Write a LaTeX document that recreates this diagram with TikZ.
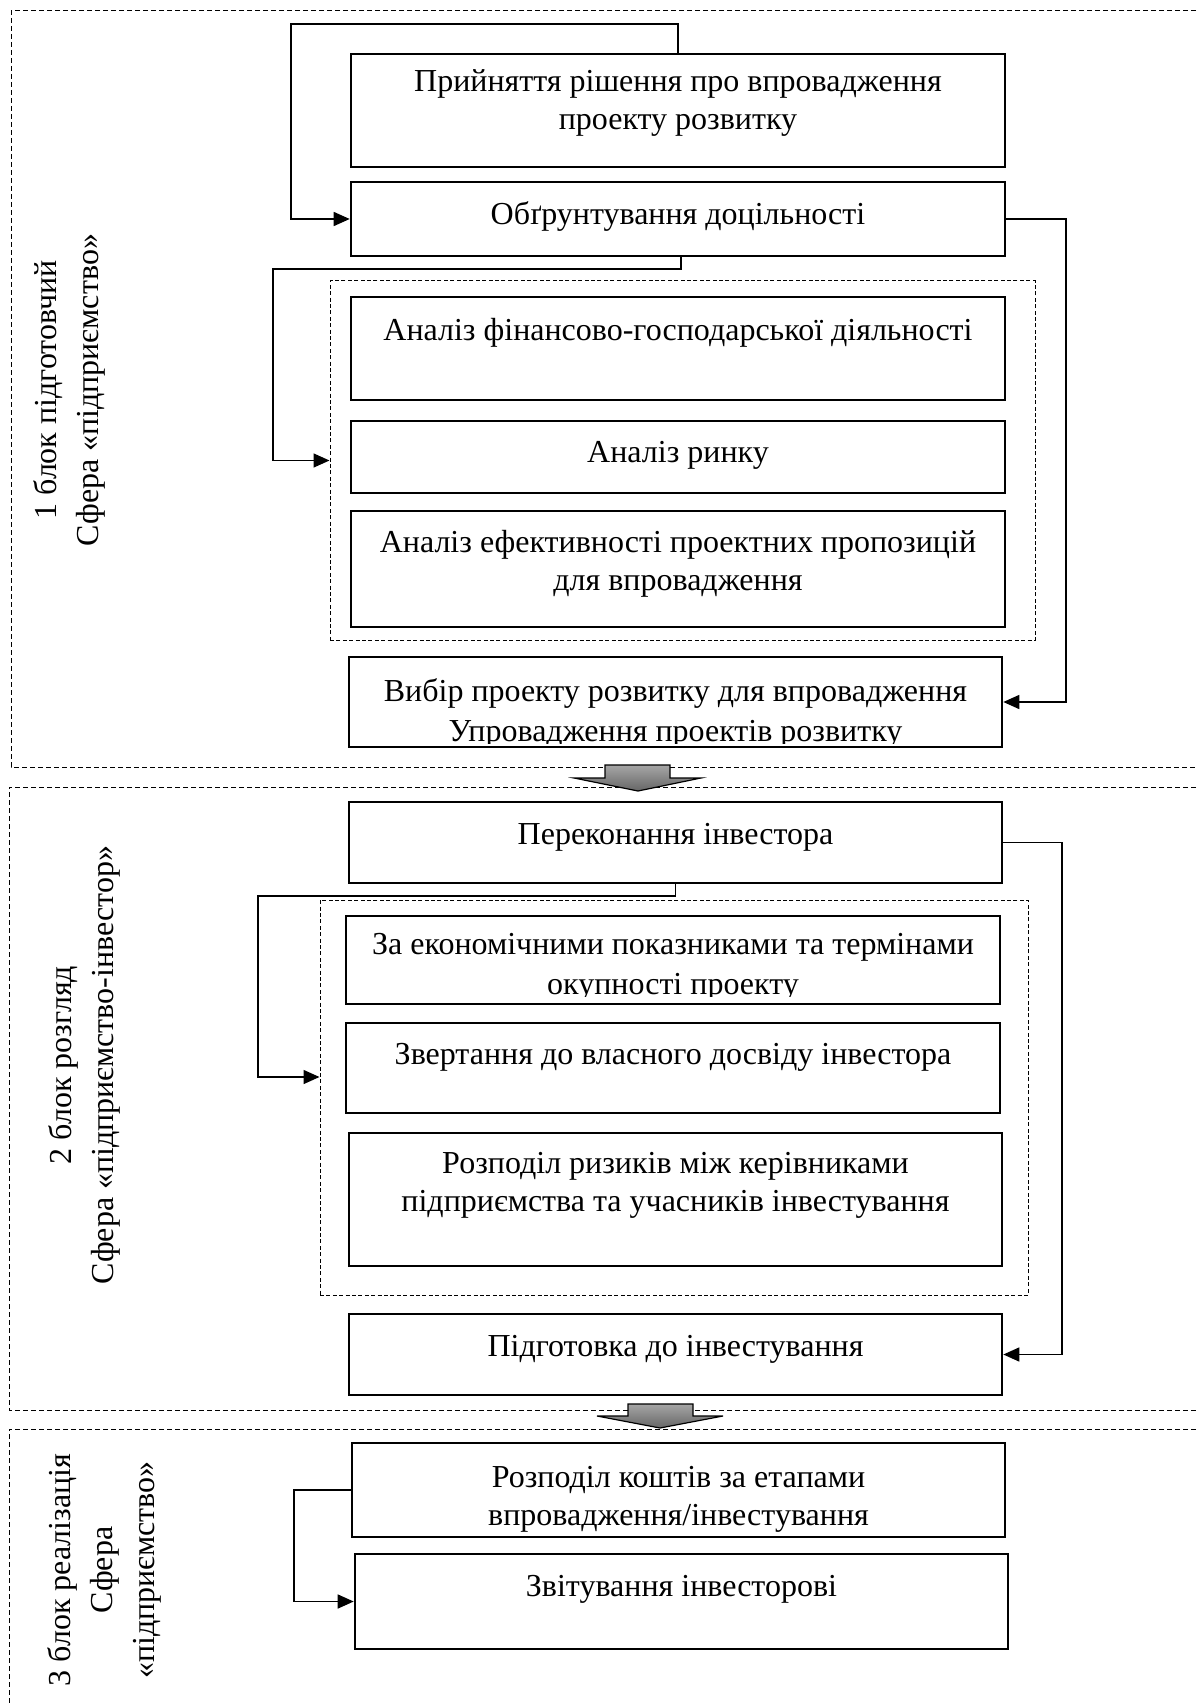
\documentclass[tikz,border=0pt]{standalone}
\usepackage{fontspec}
\setmainfont{Liberation Serif}
\usetikzlibrary{arrows.meta,fit,calc}

% fixed-height strut: keeps the first baseline at a known distance below a text node's top
\newcommand\fstrut{\rule{0pt}{15pt}}

\begin{document}
\begin{tikzpicture}[x=0.5pt,y=-0.5pt,
  box/.style={draw, line width=1.3pt, inner sep=0pt},
  txt/.style={font=\fontsize{16}{19}\selectfont, align=center, inner sep=0pt, anchor=north},
  grp/.style={draw, line width=0.5pt, dash pattern=on 2pt off 1.2pt, inner sep=0pt},
  zone/.style={line width=0.5pt, dash pattern=on 2.5pt off 1.5pt},
  conn/.style={line width=0.75pt},
  arr/.style={conn, -{Triangle[length=8pt,width=7pt]}},
  side/.style={font=\fontsize{16}{21}\selectfont, align=center, rotate=90, inner sep=0pt},
  bigarrow/.style={draw, line width=0.6pt, top color=gray!70, bottom color=gray!80!black}
]
\useasboundingbox (0,0) rectangle (1196,1706);

% three stage zones
\draw[zone] (1196,11) -- (11,11) -- (11,767) -- (1196,767);
\draw[zone] (1196,787) -- (9,787) -- (9,1410) -- (1196,1410);
\draw[zone] (1196,1429) -- (9,1429) -- (9,1706);

% stage labels
\node[side] (s1) at (69,390) {1 блок підготовчий\\Сфера «підприємство»};
\node[side] (s2) at (84,1065) {2 блок розгляд\\Сфера «підприємство-інвестор»};
\node[side] (s3) at (104,1570) {3 блок реалізація\\Сфера\\«підприємство»};

% grouped analysis steps
\node[grp, fit={(330,281) (1035,640)}] (g1) {};
\node[grp, fit={(320,900) (1028,1295)}] (g2) {};

% process boxes
\node[box, fit={(351,54) (1005,167)}] (b1) {};
\node[box, fit={(351,182) (1005,256)}] (b2) {};
\node[box, fit={(351,297) (1005,400)}] (b3) {};
\node[box, fit={(351,421) (1005,493)}] (b4) {};
\node[box, fit={(351,511) (1005,627)}] (b5) {};
\node[box, fit={(349,657) (1002,747)}] (b6) {};
\node[box, fit={(349,802) (1002,883)}] (b7) {};
\node[box, fit={(346,916) (1000,1004)}] (b8) {};
\node[box, fit={(346,1023) (1000,1113)}] (b9) {};
\node[box, fit={(349,1133) (1002,1266)}] (b10) {};
\node[box, fit={(349,1314) (1002,1395)}] (b11) {};
\node[box, fit={(352,1443) (1005,1537)}] (b12) {};
\node[box, fit={(355,1554) (1008,1649)}] (b13) {};

% box texts
\node[txt] (t1) at (678,61) {\fstrut Прийняття рішення про впровадження\\проекту розвитку};
\node[txt] (t2) at (678,194) {\fstrut Обґрунтування доцільності};
\node[txt] (t3) at (678,310) {\fstrut Аналіз фінансово-господарської діяльності};
\node[txt] (t4) at (678,432) {\fstrut Аналіз ринку};
\node[txt] (t5) at (678,522) {\fstrut Аналіз ефективності проектних пропозицій\\для впровадження};
\begin{scope}
  \clip ($(b6.north west)+(2,2)$) rectangle ($(b6.south east)+(-2,-5)$);
  \node[txt, font=\fontsize{16}{20}\selectfont] (t6) at (675.5,671)
    {\fstrut Вибір проекту розвитку для впровадження\\Упровадження проектів розвитку};
\end{scope}
\node[txt] (t7) at (675.5,814) {\fstrut Переконання інвестора};
\begin{scope}
  \clip ($(b8.north west)+(2,2)$) rectangle ($(b8.south east)+(-2,-9)$);
  \node[txt, font=\fontsize{16}{20}\selectfont] (t8) at (673,924)
    {\fstrut За економічними показниками та термінами\\окупності проекту};
\end{scope}
\node[txt] (t9) at (673,1034) {\fstrut Звертання до власного досвіду інвестора};
\node[txt] (t10) at (675.5,1143) {\fstrut Розподіл ризиків між керівниками\\підприємства та учасників інвестування};
\node[txt] (t11) at (675.5,1326) {\fstrut Підготовка до інвестування};
\node[txt] (t12) at (678.5,1457) {\fstrut Розподіл коштів за етапами\\впровадження/інвестування};
\node[txt] (t13) at (681.5,1566) {\fstrut Звітування інвесторові};

% connectors
\coordinate (k1) at (291,24);
\draw[arr] (b1.north) |- (k1) |- (b2.west);
\coordinate (k2) at (1066,460);
\draw[arr] (b2.east) -| (k2) |- (b6.east);
\coordinate (k3) at (273,269);
\draw[arr] ([xshift=1.5pt]b2.south) |- (k3) |- (g1.west);
\coordinate (k4) at (1062,1100);
\draw[arr] (b7.east) -| (k4) |- (b11.east);
\coordinate (k5) at (258,896);
\coordinate (k5b) at (258,1077);
\draw[arr] (b7.south) |- (k5) -- (k5b) -- (k5b -| g2.west);
\coordinate (k6) at (294,1545);
\draw[arr] (b12.west) -| (k6) |- (b13.west);

% transitions between stages
\path[bigarrow] (605,765) -- (670,765) -- (670,778) -- (701,778) -- (638,791)
  -- (574,778) -- (605,778) -- cycle;
\path[bigarrow] (628,1404) -- (693,1404) -- (693,1416) -- (723,1416) -- (660,1428)
  -- (597,1416) -- (628,1416) -- cycle;
\end{tikzpicture}
\end{document}
